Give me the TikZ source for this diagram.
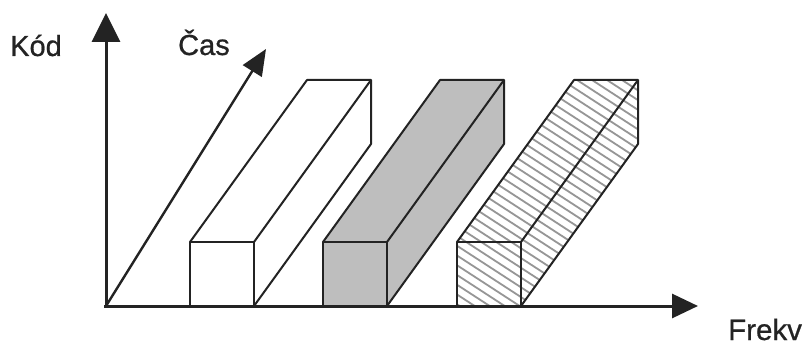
\documentclass[tikz,border=0pt]{standalone}
\usepackage{fontspec}
\setmainfont{Liberation Sans}[FakeBold=0.7]
\usetikzlibrary{arrows.meta}
\definecolor{ink}{RGB}{35,35,35}
\definecolor{boxgray}{RGB}{190,190,190}
\definecolor{hatchgray}{RGB}{150,150,150}
\newcommand\prismOutline{%
  \draw[edge] (0,0) rectangle (64,-64);
  \draw[edge] (0,-64) -- (117,-226) -- (181,-226) -- (181,-162) -- (64,0);
  \draw[edge] (64,-64) -- (181,-226);
}
\newcommand\prismShape{(0,0) -- (0,-64) -- (117,-226) -- (181,-226) -- (181,-162) -- (64,0) -- cycle}
\begin{document}
\begin{tikzpicture}[x=1pt,y=-1pt,
  edge/.style={draw=ink,line width=2pt,line join=round},
  axisline/.style={draw=ink,line width=3pt,-{Triangle[length=29pt,width=28pt]}},
  timeline/.style={draw=ink,line width=2.4pt,-{Triangle[length=26pt,width=22pt]}},
  hatchline/.style={draw=hatchgray,line width=1.8pt},
  lbl/.style={inner sep=0pt,font=\fontsize{29}{32}\selectfont,text=ink}]
\useasboundingbox (0,0) rectangle (804,345);
\fill[white] (0,0) rectangle (804,345);

% prism 1: white
\begin{scope}[shift={(190,306)}]
  \fill[white] \prismShape;
  \prismOutline
\end{scope}
% prism 2: gray
\begin{scope}[shift={(323,306)}]
  \fill[boxgray] \prismShape;
  \prismOutline
\end{scope}
% prism 3: hatched
\begin{scope}[shift={(457,306)}]
  \fill[white] \prismShape;
  \begin{scope}
    \clip \prismShape;
    \foreach \c in {-420,-405,...,195} \draw[hatchline] (\c,-226) -- ++(400,260);
  \end{scope}
  \prismOutline
\end{scope}

\coordinate (O) at (106,306);
\coordinate (kodtip) at (106,13);
\coordinate (frektip) at (698,306);
\coordinate (castip) at (266,49);

\draw[axisline] (O) -- (kodtip);
\draw[axisline,-{Triangle[length=26pt,width=24pt]}] ([xshift=-2pt]O) -- (frektip);
\draw[timeline] (O) -- (castip);

\node[lbl,anchor=base west] (kod) at (10,56) {Kód};
\node[lbl,anchor=base west] (cas) at (178,55) {Čas};
\node[lbl,anchor=base west,font=\fontsize{29.5}{33}\selectfont] (frek) at (728,340) {Frekv};
\end{tikzpicture}
\end{document}
